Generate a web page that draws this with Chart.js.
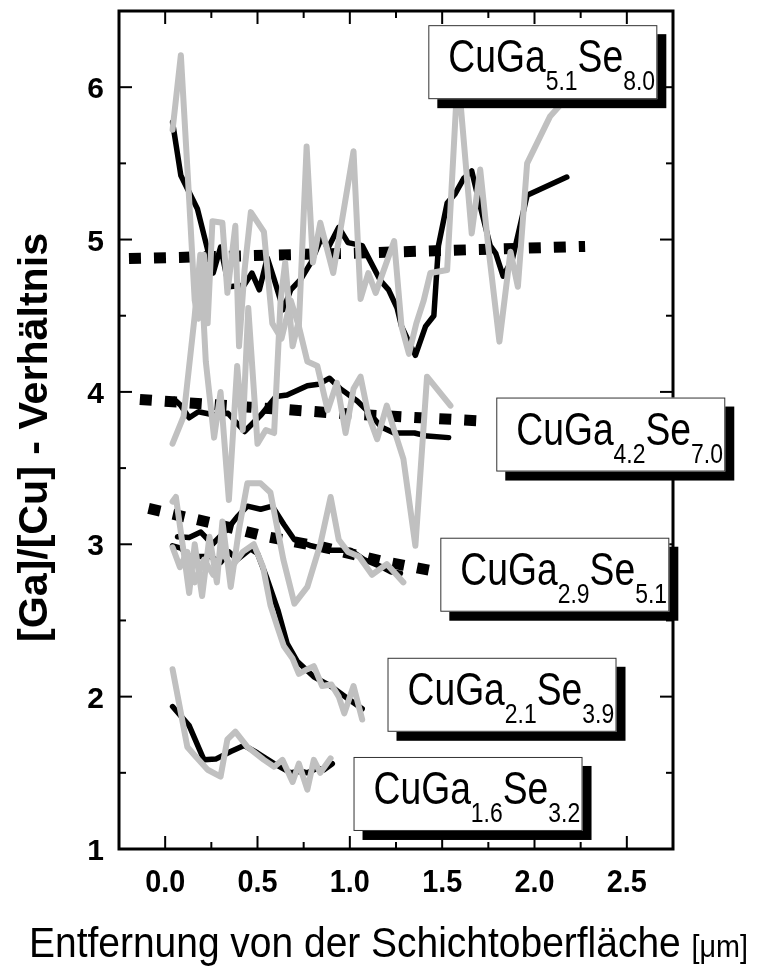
<!DOCTYPE html>
<html>
<head>
<meta charset="utf-8">
<script src="https://cdn.jsdelivr.net/npm/chart.js@4.4.0/dist/chart.umd.min.js"></script>
<style>
html,body{margin:0;padding:0;background:#fff;}
canvas{display:block;}
</style>
</head>
<body>
<canvas id="c" width="758" height="966"></canvas>
<script>
// ---------- DATA ----------
// smoothed profiles (black solid)
const b1X = [0.04,0.085,0.13,0.175,0.247,0.26,0.30,0.345,0.427,0.47,0.51,0.553,0.59,0.64,0.68,0.735,0.79,0.85,0.88,0.94,0.99,1.067,1.166,1.21,1.256,1.28,1.355,1.41,1.455,1.48,1.527,1.57,1.616,1.66,1.706,1.76,1.79,1.83,1.88,1.96,2.175];
const b1Y = [5.77,5.42,5.31,5.20,4.85,4.78,4.95,4.69,4.70,4.78,4.67,4.88,4.74,4.54,4.67,4.74,4.85,5.02,4.94,5.08,4.98,4.96,4.73,4.67,4.55,4.43,4.24,4.43,4.50,4.96,5.24,5.30,5.40,5.45,5.22,4.96,4.91,4.76,4.87,5.29,5.41];
const b2X = [0.05,0.085,0.13,0.18,0.26,0.34,0.43,0.52,0.60,0.66,0.77,0.83,0.89,0.95,1.04,1.10,1.17,1.24,1.35,1.42,1.535];
const b2Y = [3.95,3.91,3.83,3.87,3.85,3.86,3.74,3.85,3.97,3.98,4.04,4.05,4.09,4.02,3.94,3.87,3.77,3.73,3.73,3.71,3.70];
const b3X = [0.067,0.13,0.193,0.256,0.337,0.39,0.445,0.517,0.58,0.643,0.70,0.79,0.896,1.004,1.076,1.166,1.22,1.274];
const b3Y = [3.05,3.045,3.08,3.00,3.10,3.18,3.25,3.23,3.25,3.13,3.03,2.99,2.96,2.96,2.90,2.855,2.82,2.81];
const b4X = [0.04,0.085,0.13,0.247,0.30,0.346,0.39,0.463,0.50,0.553,0.61,0.66,0.716,0.805,0.896,0.986,1.067];
const b4Y = [2.99,2.975,2.92,2.92,2.88,2.95,2.90,2.97,2.94,2.77,2.57,2.35,2.23,2.13,2.07,1.99,1.92];
const b5X = [0.04,0.13,0.21,0.274,0.355,0.427,0.50,0.59,0.68,0.735,0.77,0.824,0.86,0.905];
const b5Y = [1.935,1.81,1.585,1.59,1.64,1.68,1.63,1.56,1.50,1.51,1.50,1.53,1.52,1.56];

// nominal composition lines (black dotted)
const d1X = [-0.196,1.0,2.274];
const d1Y = [4.875,4.91,4.955];
const d2X = [-0.137,0.46,1.0,1.707];
const d2Y = [3.95,3.90,3.855,3.81];
const d3X = [-0.09,0.25,0.55,0.86,1.17,1.43];
const d3Y = [3.235,3.14,3.05,2.98,2.89,2.83];

// raw measurements (grey)
const g1X = [0.04,0.085,0.13,0.16,0.18,0.21,0.23,0.256,0.31,0.337,0.38,0.40,0.43,0.464,0.535,0.58,0.63,0.68,0.724,0.766,0.80,0.84,0.91,1.02,1.058,1.10,1.14,1.24,1.28,1.32,1.36,1.40,1.436,1.527,1.585,1.66,1.706,1.75,1.81,1.87,1.91,1.96,2.085,2.3];
const g1Y = [5.72,6.21,5.26,4.60,4.48,4.90,4.45,5.12,5.11,4.65,5.09,4.30,4.80,5.18,5.05,4.45,4.35,4.60,4.43,5.61,4.85,5.11,4.78,5.58,4.61,4.78,4.65,4.99,4.43,4.25,4.45,4.60,4.78,4.80,6.10,5.04,5.46,4.95,4.33,4.92,4.69,5.50,5.81,6.10];
const g2X = [0.04,0.10,0.16,0.19,0.22,0.265,0.30,0.345,0.39,0.42,0.45,0.50,0.545,0.59,0.625,0.65,0.69,0.72,0.77,0.824,0.88,0.93,0.977,1.02,1.058,1.10,1.148,1.20,1.24,1.29,1.355,1.418,1.545];
const g2Y = [3.66,3.84,4.50,4.90,4.20,3.70,4.00,3.29,4.17,3.75,4.55,3.66,3.75,3.73,4.60,4.85,4.30,4.45,4.20,4.17,3.88,4.06,3.73,4.02,4.10,3.85,3.69,3.91,3.75,3.56,2.99,4.10,3.91];
const g3X = [0.04,0.058,0.10,0.13,0.16,0.20,0.24,0.28,0.31,0.355,0.40,0.445,0.517,0.57,0.64,0.70,0.77,0.84,0.896,0.94,0.99,1.05,1.12,1.20,1.29];
const g3Y = [3.28,3.31,2.95,2.68,3.00,2.66,3.05,2.75,3.15,2.72,3.10,3.40,3.40,3.34,2.90,2.61,2.72,3.00,3.31,3.03,2.95,2.92,2.80,2.87,2.75];
const g4X = [0.04,0.08,0.12,0.16,0.21,0.26,0.31,0.36,0.42,0.48,0.53,0.57,0.61,0.643,0.69,0.724,0.77,0.805,0.85,0.90,0.94,0.97,1.02,1.067];
const g4Y = [2.98,2.85,2.95,2.75,2.90,2.80,2.95,2.85,2.95,3.00,2.85,2.60,2.45,2.33,2.25,2.15,2.18,2.20,2.07,2.08,2.00,1.89,2.07,1.85];
const g5X = [0.04,0.12,0.17,0.23,0.30,0.337,0.38,0.445,0.535,0.59,0.635,0.69,0.724,0.77,0.805,0.84,0.896];
const g5Y = [2.18,1.67,1.60,1.52,1.475,1.72,1.77,1.67,1.585,1.54,1.585,1.44,1.56,1.39,1.585,1.50,1.595];

// axes
const xMajor = [0,0.5,1.0,1.5,2.0,2.5];
const xTickLabels = ['0.0','0.5','1.0','1.5','2.0','2.5'];
const xMinor = [0.25,0.75,1.25,1.75,2.25];
const yMajor = [1,2,3,4,5,6];
const yTickLabels = ['1','2','3','4','5','6'];
const yMinor = [1.5,2.5,3.5,4.5,5.5];
const xTitle = 'Entfernung von der Schichtoberfläche ';
const xTitleUnit = '[\u03BCm]';
const yTitle = '[Ga]/[Cu] - Verhältnis';

// formula labels
const fMain = ['CuGa','CuGa','CuGa','CuGa','CuGa'];
const fSub1 = ['5.1','4.2','2.9','2.1','1.6'];
const fMid  = ['Se','Se','Se','Se','Se'];
const fSub2 = ['8.0','7.0','5.1','3.9','3.2'];
// anchor (top-left of each label box) in data coordinates
const fAnchorX = [1.425,1.793,1.490,1.204,1.020];
const fAnchorY = [6.407,3.963,3.043,2.255,1.604];

// ---------- BUILD ----------
function pts(xs, ys){ return xs.map((x,i)=>({x:x, y:ys[i]})); }
const GREY = '#c0c0c0';
function grey(xs,ys){ return {data:pts(xs,ys), borderColor:GREY, borderWidth:6, pointRadius:0, showLine:true, tension:0, borderJoinStyle:'round', borderCapStyle:'round'}; }
function solid(xs,ys){ return {data:pts(xs,ys), borderColor:'#000', borderWidth:5.5, pointRadius:0, showLine:true, tension:0, borderJoinStyle:'round', borderCapStyle:'round'}; }
function dotted(xs,ys){ return {data:pts(xs,ys), borderColor:'#000', borderWidth:11, borderDash:[12,13], borderCapStyle:'butt', pointRadius:0, showLine:true, tension:0}; }

const datasets = [
  grey(g1X,g1Y), grey(g2X,g2Y), grey(g3X,g3Y), grey(g4X,g4Y), grey(g5X,g5Y),
  dotted(d1X,d1Y), dotted(d2X,d2Y), dotted(d3X,d3Y),
  solid(b1X,b1Y), solid(b2X,b2Y), solid(b3X,b3Y), solid(b4X,b4Y), solid(b5X,b5Y)
];

const FONT = "'Liberation Sans', Arial, Helvetica, sans-serif";

function txt(ctx, s, x, y, font, sx){
  ctx.save();
  ctx.font = font;
  const w = ctx.measureText(s).width * sx;
  ctx.translate(x, y);
  ctx.scale(sx, 1);
  ctx.fillText(s, 0, 0);
  ctx.restore();
  return w;
}
function measure(ctx, s, font){ ctx.save(); ctx.font = font; const w = ctx.measureText(s).width; ctx.restore(); return w; }

const decor = {
  id: 'decor',
  afterDraw(chart){
    const ctx = chart.ctx, xs = chart.scales.x, ys = chart.scales.y, a = chart.chartArea;
    ctx.save();
    // ticks (inward, all four sides)
    ctx.strokeStyle = '#000'; ctx.lineWidth = 2;
    const tick = (x1,y1,x2,y2)=>{ ctx.beginPath(); ctx.moveTo(x1,y1); ctx.lineTo(x2,y2); ctx.stroke(); };
    xMajor.forEach(v=>{ const p = xs.getPixelForValue(v); tick(p,a.bottom,p,a.bottom-13); tick(p,a.top,p,a.top+13); });
    xMinor.forEach(v=>{ const p = xs.getPixelForValue(v); tick(p,a.bottom,p,a.bottom-7); tick(p,a.top,p,a.top+7); });
    yMajor.forEach(v=>{ const p = ys.getPixelForValue(v); tick(a.left,p,a.left+13,p); tick(a.right,p,a.right-13,p); });
    yMinor.forEach(v=>{ const p = ys.getPixelForValue(v); tick(a.left,p,a.left+7,p); tick(a.right,p,a.right-7,p); });
    // frame
    ctx.lineWidth = 3;
    ctx.strokeRect(a.left, a.top, a.right-a.left, a.bottom-a.top);

    ctx.fillStyle = '#000';
    ctx.textBaseline = 'alphabetic';
    // y tick labels
    const yfnt = 'bold 30px ' + FONT;
    yMajor.forEach((v,i)=>{
      const p = ys.getPixelForValue(v);
      const w = measure(ctx, yTickLabels[i], yfnt);
      txt(ctx, yTickLabels[i], a.left - 15 - w, p + 11, yfnt, 1);
    });
    // x tick labels
    const xf = 'bold 32px ' + FONT, xsx = 0.9;
    xMajor.forEach((v,i)=>{
      const p = xs.getPixelForValue(v);
      const w = measure(ctx, xTickLabels[i], xf) * xsx;
      txt(ctx, xTickLabels[i], p - w/2, 892, xf, xsx);
    });

    // x title
    const tf1 = '42px ' + FONT, tf2 = '31px ' + FONT;
    const w1 = measure(ctx, xTitle, tf1), w2 = measure(ctx, xTitleUnit, tf2);
    const tsx = 719 / (w1 + w2);
    let tx = 29;
    tx += txt(ctx, xTitle, tx, 957, tf1, tsx);
    txt(ctx, xTitleUnit, tx, 957, tf2, tsx);

    // y title (rotated)
    ctx.save();
    const yf = 'bold 40px ' + FONT;
    const yw = measure(ctx, yTitle, yf);
    const ysx = 409 / yw;
    ctx.translate(47, 437.5);
    ctx.rotate(-Math.PI/2);
    txt(ctx, yTitle, -yw*ysx/2, 0, yf, ysx);
    ctx.restore();

    // formula label boxes
    const BW = 229, BH = 74, SH = 9;
    const mf = '46px ' + FONT, sf = '27px ' + FONT, msx = 0.81, ssx = 0.85;
    fMain.forEach((m,i)=>{
      const L = xs.getPixelForValue(fAnchorX[i]), T = ys.getPixelForValue(fAnchorY[i]);
      ctx.fillStyle = '#000';
      ctx.fillRect(L+SH, T+SH, BW, BH);
      ctx.fillStyle = '#fff';
      ctx.fillRect(L, T, BW, BH);
      ctx.strokeStyle = '#333'; ctx.lineWidth = 1;
      ctx.strokeRect(L+0.5, T+0.5, BW-1, BH-1);
      ctx.fillStyle = '#000';
      let x = L + 20;
      x += txt(ctx, m, x, T+47, mf, msx);
      x += txt(ctx, fSub1[i], x, T+65, sf, ssx);
      x += txt(ctx, fMid[i], x, T+47, mf, msx);
      txt(ctx, fSub2[i], x, T+65, sf, ssx);
    });
    ctx.restore();
  }
};

new Chart(document.getElementById('c'), {
  type: 'scatter',
  data: { datasets: datasets },
  options: {
    responsive: false,
    animation: false,
    devicePixelRatio: 1,
    layout: { padding: { left: 0, right: 85, top: 11, bottom: 0 } },
    plugins: { legend: { display: false }, tooltip: { enabled: false }, title: { display: false } },
    scales: {
      x: {
        type: 'linear', min: -0.25, max: 2.75,
        afterFit(s){ s.height = 117; },
        grid: { display: false, drawTicks: false },
        border: { display: false },
        ticks: { display: false }
      },
      y: {
        type: 'linear', min: 1, max: 6.5,
        afterFit(s){ s.width = 119; },
        grid: { display: false, drawTicks: false },
        border: { display: false },
        ticks: { display: false }
      }
    }
  },
  plugins: [decor]
});
</script>
</body>
</html>
